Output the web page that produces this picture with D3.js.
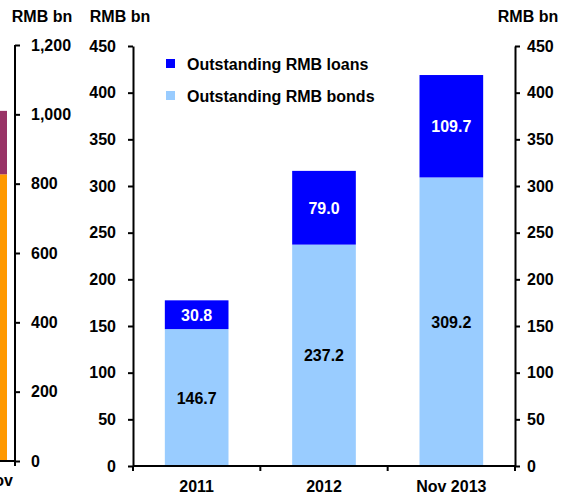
<!DOCTYPE html>
<html><head><meta charset="utf-8">
<script src="https://cdn.jsdelivr.net/npm/d3@7"></script>
<style>body{margin:0;background:#fff}svg{display:block}text{font-family:"Liberation Sans",Arial,sans-serif;font-weight:bold;fill:#000}</style>
</head><body><svg id="c" width="561" height="495"></svg>
<script>
// Main chart data
const categories = ["2011", "2012", "Nov 2013"];
const bonds = [146.7, 237.2, 309.2];
const loans = [30.8, 79.0, 109.7];
const yTicks = [0, 50, 100, 150, 200, 250, 300, 350, 400, 450];
const seriesNames = ["Outstanding RMB loans", "Outstanding RMB bonds"];
// Partial chart on the left (cut off)
const leftCategories = ["Nov"];
const leftLower = [827];
const leftUpper = [183];
const leftTicks = [0, 200, 400, 600, 800, 1000, 1200];

const svg = d3.select("#c");
const colLoans = "#0000FF", colBonds = "#99CCFF";
const FS = "16px";

// ---------- left partial chart ----------
const lx = d3.scaleBand().domain(leftCategories).range([-60, 7]).padding(0);
const ly = d3.scaleLinear().domain([0, 1200]).range([461, 45]);
const lg = svg.append("g");
lg.selectAll(".lo").data(leftCategories).join("rect")
  .attr("x", d => lx(d)).attr("width", lx.bandwidth())
  .attr("y", (d, i) => ly(leftLower[i])).attr("height", (d, i) => ly(0) - ly(leftLower[i]))
  .attr("fill", "#FF9900");
lg.selectAll(".up").data(leftCategories).join("rect")
  .attr("x", d => lx(d)).attr("width", lx.bandwidth())
  .attr("y", (d, i) => ly(leftLower[i] + leftUpper[i])).attr("height", (d, i) => ly(leftLower[i]) - ly(leftLower[i] + leftUpper[i]))
  .attr("fill", "#993366");
const lAxis = lg.append("g").attr("transform", "translate(15,0)")
  .call(d3.axisRight(ly).tickValues(leftTicks).tickSize(5).tickPadding(11).tickFormat(d3.format(",")));
lAxis.select(".domain").attr("d", `M0,${ly(1200)}V${ly(0)}`).attr("stroke", "#000").attr("stroke-width", 2);
lAxis.selectAll(".tick line").attr("stroke", "#000").attr("stroke-width", 2);
lAxis.selectAll("text").style("font-size", FS).attr("fill", "#000");
lg.append("line").attr("x1", -60).attr("x2", 15).attr("y1", ly(0)).attr("y2", ly(0)).attr("stroke", "#000").attr("stroke-width", 2);
lg.append("line").attr("x1", 15).attr("x2", 15).attr("y1", ly(0)).attr("y2", ly(0) + 5).attr("stroke", "#000").attr("stroke-width", 2);
lg.selectAll(".xl").data(leftCategories).join("text")
  .attr("x", d => lx(d) + lx.bandwidth() + 6).attr("y", 486).attr("text-anchor", "end")
  .style("font-size", FS).text(d => d);
lg.append("text").attr("x", 42).attr("y", 22).attr("text-anchor", "middle").style("font-size", FS).text("RMB bn");

// ---------- main chart ----------
const x = d3.scaleBand().domain(categories).range([133, 515]).paddingInner(0.5).paddingOuter(0.25);
const y = d3.scaleLinear().domain([0, 450]).range([466, 46]);
const g = svg.append("g");

g.selectAll(".b").data(categories).join("rect")
  .attr("x", d => x(d)).attr("width", x.bandwidth())
  .attr("y", (d, i) => y(bonds[i])).attr("height", (d, i) => y(0) - y(bonds[i]))
  .attr("fill", colBonds);
g.selectAll(".l").data(categories).join("rect")
  .attr("x", d => x(d)).attr("width", x.bandwidth())
  .attr("y", (d, i) => y(bonds[i] + loans[i])).attr("height", (d, i) => y(bonds[i]) - y(bonds[i] + loans[i]))
  .attr("fill", colLoans);

g.selectAll(".bt").data(categories).join("text")
  .attr("x", d => x(d) + x.bandwidth() / 2).attr("y", (d, i) => y(bonds[i] / 2) + 6)
  .attr("text-anchor", "middle").style("font-size", FS).attr("fill", "#000")
  .text((d, i) => bonds[i].toFixed(1));
g.selectAll(".lt").data(categories).join("text")
  .attr("x", d => x(d) + x.bandwidth() / 2).attr("y", (d, i) => y(bonds[i] + loans[i] / 2) + 6)
  .attr("text-anchor", "middle").style("font-size", FS).style("fill", "#fff")
  .text((d, i) => loans[i].toFixed(1));

function styleAxis(a) {
  a.selectAll(".domain").attr("stroke", "#000").attr("stroke-width", 2);
  a.selectAll(".tick line").attr("stroke", "#000").attr("stroke-width", 2);
  a.selectAll("text").style("font-size", FS).attr("fill", "#000");
}
const yl = g.append("g").attr("transform", "translate(133,0)")
  .call(d3.axisLeft(y).tickValues(yTicks).tickSize(5).tickPadding(12).tickSizeOuter(0));
styleAxis(yl);
const yr = g.append("g").attr("transform", "translate(515,0)")
  .call(d3.axisRight(y).tickValues(yTicks).tickSize(5).tickPadding(7).tickSizeOuter(0));
styleAxis(yr);

// x axis with ticks at category boundaries
const xa = g.append("g").attr("transform", "translate(0,466)");
xa.append("line").attr("x1", 133).attr("x2", 515).attr("stroke", "#000").attr("stroke-width", 2);
const bounds = categories.map(d => x(d) - x.step() * x.paddingInner() / 2).concat([515]);
xa.selectAll(".xt").data(bounds).join("line")
  .attr("x1", d => d).attr("x2", d => d).attr("y1", 0).attr("y2", 5)
  .attr("stroke", "#000").attr("stroke-width", 2);
xa.selectAll(".xlab").data(categories).join("text")
  .attr("x", d => x(d) + x.bandwidth() / 2).attr("y", 26).attr("text-anchor", "middle")
  .style("font-size", FS).text(d => d);

g.append("text").attr("x", 120).attr("y", 22).attr("text-anchor", "middle").style("font-size", FS).text("RMB bn");
g.append("text").attr("x", 528).attr("y", 22).attr("text-anchor", "middle").style("font-size", FS).text("RMB bn");

// legend
const leg = g.append("g");
const legColors = [colLoans, colBonds];
seriesNames.forEach((s, i) => {
  const yy = 64 + i * 32;
  leg.append("rect").attr("x", 166).attr("y", yy - 5).attr("width", 9).attr("height", 9).attr("fill", legColors[i]);
  leg.append("text").attr("x", 187).attr("y", yy + 6).style("font-size", FS).text(s);
});
</script></body></html>
